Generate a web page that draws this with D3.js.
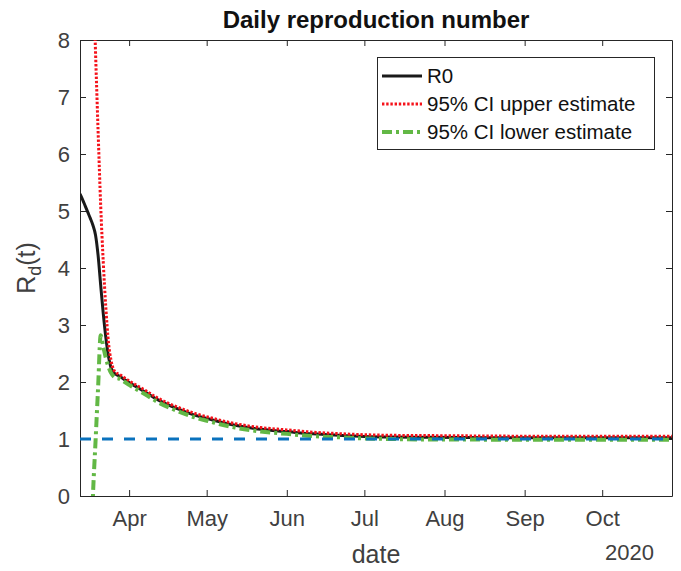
<!DOCTYPE html>
<html>
<head>
<meta charset="utf-8">
<script src="https://cdn.jsdelivr.net/npm/d3@7"></script>
<style>
  html, body { margin: 0; padding: 0; background: #fff; }
  svg { display: block; font-family: "Liberation Sans", Arial, Helvetica, sans-serif; }
</style>
</head>
<body>
<svg id="chart" width="681" height="571"></svg>
<script>
// Estimate dates (2020)
const dates = [
  "2020-03-13","2020-03-14","2020-03-15","2020-03-16","2020-03-17","2020-03-18",
  "2020-03-19","2020-03-20","2020-03-21","2020-03-22","2020-03-23","2020-03-24",
  "2020-03-25","2020-03-26","2020-03-27","2020-03-28","2020-03-30","2020-04-01",
  "2020-04-04","2020-04-07","2020-04-12","2020-04-17","2020-04-22","2020-04-27",
  "2020-05-02","2020-05-07","2020-05-12","2020-05-22","2020-06-01","2020-06-11",
  "2020-06-21","2020-07-01","2020-07-11","2020-07-26","2020-08-10","2020-08-30",
  "2020-09-19","2020-10-09","2020-10-28"
];

// Daily reproduction number estimate
const r0 = [
  5.30, 5.20, 5.09, 4.98, 4.87, 4.75,
  4.58, 4.22, 3.70, 3.20, 2.78, 2.45,
  2.25, 2.17, 2.13, 2.11, 2.05, 1.99,
  1.91, 1.83, 1.69, 1.58, 1.49, 1.41,
  1.35, 1.29, 1.24, 1.17, 1.13, 1.09,
  1.065, 1.045, 1.035, 1.03, 1.025, 1.02,
  1.02, 1.02, 1.02
];

// 95% confidence interval bounds
const ciUpper = [
  40.0, 30.0, 22.0, 16.0, 12.0, 9.3,
  7.8, 6.4, 5.1, 4.1, 3.3, 2.7,
  2.38, 2.22, 2.16, 2.14, 2.08, 2.02,
  1.94, 1.86, 1.72, 1.61, 1.52, 1.44,
  1.38, 1.32, 1.27, 1.20, 1.16, 1.12,
  1.095, 1.075, 1.065, 1.06, 1.055, 1.05,
  1.05, 1.05, 1.05
];
const ciLower = [
  -8.0, -6.0, -4.5, -3.0, -1.4, 0.0,
  0.95, 1.90, 2.82, 2.62, 2.42, 2.27,
  2.16, 2.10, 2.07, 2.06, 2.01, 1.95,
  1.87, 1.79, 1.65, 1.54, 1.45, 1.37,
  1.31, 1.25, 1.20, 1.13, 1.09, 1.05,
  1.03, 1.01, 1.00, 0.99, 0.99, 0.985,
  0.985, 0.985, 0.985
];

const threshold = 1;
const yTicks = [0, 1, 2, 3, 4, 5, 6, 7, 8];
const monthTicks = ["2020-04-01","2020-05-01","2020-06-01","2020-07-01","2020-08-01","2020-09-01","2020-10-01"];
const monthLabels = ["Apr","May","Jun","Jul","Aug","Sep","Oct"];
const legendLabels = ["R0", "95% CI upper estimate", "95% CI lower estimate"];

const parse = d3.utcParse("%Y-%m-%d");
const svg = d3.select("#chart");
const W = 681, H = 571;
const m = { left: 80, right: 9, top: 40, bottom: 75 };
const pw = W - m.left - m.right, ph = H - m.top - m.bottom;
const ink = "#262626";
const labelInk = "#404040";

const x = d3.scaleUtc().domain([parse(dates[0]), parse(dates[dates.length - 1])]).range([m.left, m.left + pw]);
const y = d3.scaleLinear().domain([0, 8]).range([m.top + ph, m.top]);

svg.append("defs").append("clipPath").attr("id", "plotClip")
  .append("rect").attr("x", m.left).attr("y", m.top).attr("width", pw).attr("height", ph);

// Axes (box with inward ticks on all four sides)
const xt = monthTicks.map(parse);
const fmtMonth = d => monthLabels[xt.findIndex(t => +t === +d)];

const axB = svg.append("g").attr("transform", `translate(0,${m.top + ph})`)
  .call(d3.axisBottom(x).tickValues(xt).tickFormat(fmtMonth).tickSizeInner(-6).tickSizeOuter(0).tickPadding(14));
const axT = svg.append("g").attr("transform", `translate(0,${m.top})`)
  .call(d3.axisTop(x).tickValues(xt).tickFormat("").tickSizeInner(-6).tickSizeOuter(0));
const axL = svg.append("g").attr("transform", `translate(${m.left},0)`)
  .call(d3.axisLeft(y).tickValues(yTicks).tickFormat(d3.format("d")).tickSizeInner(-6).tickSizeOuter(0).tickPadding(10));
const axR = svg.append("g").attr("transform", `translate(${m.left + pw},0)`)
  .call(d3.axisRight(y).tickValues(yTicks).tickFormat("").tickSizeInner(-6).tickSizeOuter(0));

[axB, axT, axL, axR].forEach(g => {
  g.select(".domain").attr("stroke", ink).attr("stroke-width", 1);
  g.selectAll(".tick line").attr("stroke", ink).attr("stroke-width", 1);
  g.selectAll(".tick text").attr("fill", labelInk).attr("font-size", 22);
});

// Series
const pts = arr => arr.map((v, i) => [parse(dates[i]), v]);
const line = d3.line().x(d => x(d[0])).y(d => y(d[1])).curve(d3.curveMonotoneX);
const plot = svg.append("g").attr("clip-path", "url(#plotClip)");

const series = [
  { vals: r0, color: "#1a1a1a", width: 3, dash: null },
  { vals: ciUpper, color: "#f5121a", width: 3, dash: "2.4,1.8" },
  { vals: ciLower, color: "#62b845", width: 4, dash: "10,4,3,4" }
];
series.forEach(s => {
  plot.append("path").datum(pts(s.vals))
    .attr("fill", "none").attr("stroke", s.color).attr("stroke-width", s.width)
    .attr("stroke-dasharray", s.dash).attr("d", line);
});

// Threshold R = 1
plot.append("line")
  .attr("x1", m.left).attr("x2", m.left + pw)
  .attr("y1", y(threshold)).attr("y2", y(threshold))
  .attr("stroke", "#0a72bd").attr("stroke-width", 3).attr("stroke-dasharray", "11,11");

// Title and labels
svg.append("text").attr("x", m.left + pw / 2).attr("y", 28).attr("text-anchor", "middle")
  .attr("font-size", 24).attr("font-weight", "bold").attr("fill", "#111")
  .text("Daily reproduction number");

svg.append("text").attr("x", m.left + pw / 2).attr("y", 563).attr("text-anchor", "middle")
  .attr("font-size", 25).attr("fill", labelInk).text("date");

svg.append("text").attr("x", 654).attr("y", 560).attr("text-anchor", "end")
  .attr("font-size", 22).attr("fill", labelInk).text("2020");

const yl = svg.append("text").attr("transform", `translate(35,${m.top + ph / 2}) rotate(-90)`)
  .attr("text-anchor", "middle").attr("font-size", 25).attr("fill", labelInk);
yl.append("tspan").text("R");
yl.append("tspan").attr("font-size", 18).attr("dy", 6).text("d");
yl.append("tspan").attr("dy", -6).text("(t)");

// Legend
const lg = svg.append("g");
lg.append("rect").attr("x", 377.5).attr("y", 57.5).attr("width", 277).attr("height", 92)
  .attr("fill", "#fff").attr("stroke", ink).attr("stroke-width", 1);
const rowY = [76, 104, 132];
series.forEach((s, i) => {
  lg.append("line").attr("x1", 382).attr("x2", 422).attr("y1", rowY[i]).attr("y2", rowY[i])
    .attr("stroke", s.color).attr("stroke-width", s.width).attr("stroke-dasharray", s.dash);
  lg.append("text").attr("x", 427).attr("y", rowY[i]).attr("dy", "0.36em")
    .attr("font-size", 20.5).attr("fill", "#111").text(legendLabels[i]);
});
</script>
</body>
</html>
